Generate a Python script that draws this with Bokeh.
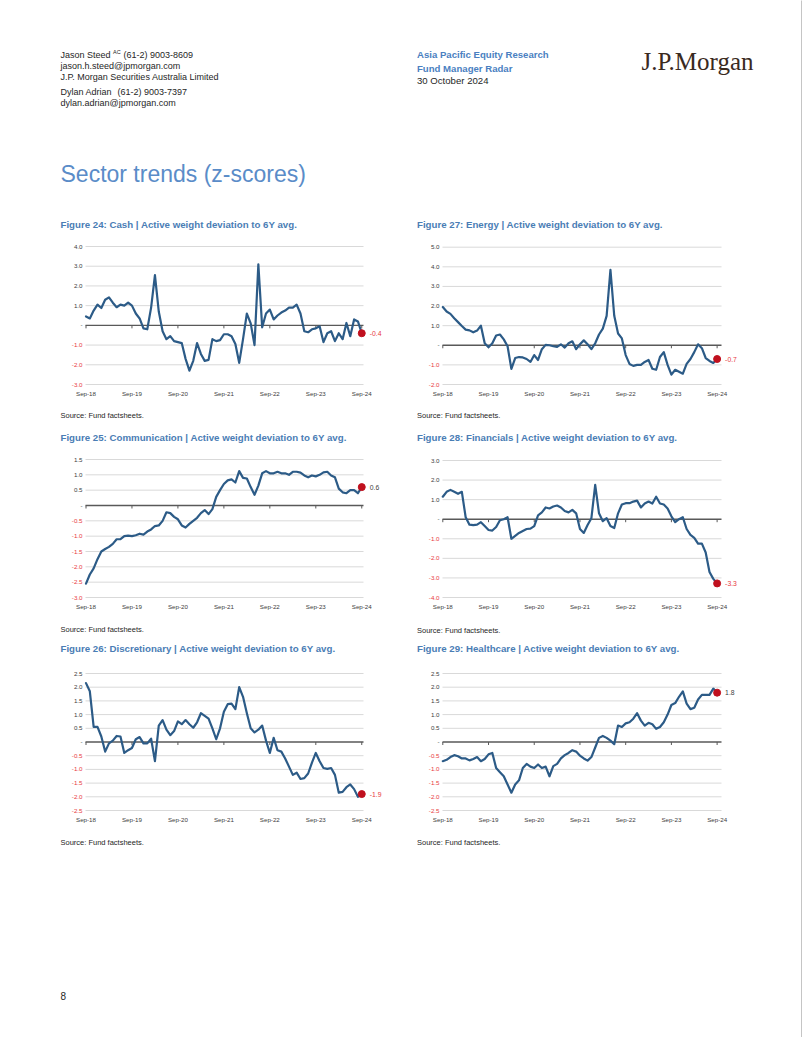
from bokeh.plotting import figure
from bokeh.models import Range1d, FixedTicker, Label, LabelSet, ColumnDataSource
from bokeh.layouts import column, row
from bokeh.core.properties import value, field
from bokeh.embed import file_html
from bokeh.resources import INLINE

# ---------------- data ----------------
months = list(range(73))  # Sep-18 .. Sep-24, monthly
tick_months = [0, 12, 24, 36, 48, 60, 72]
tick_labels = ["Sep-18", "Sep-19", "Sep-20", "Sep-21", "Sep-22", "Sep-23", "Sep-24"]

cash = [0.45, 0.35, 0.75, 1.05, 0.88, 1.3, 1.42, 1.15, 0.92, 1.05,
        1.0, 1.15, 1.0, 0.6, 0.35, -0.15, -0.2, 0.9, 2.55, 0.7,
        -0.3, -0.7, -0.55, -0.8, -0.85, -0.9, -1.7, -2.3, -1.8, -0.9,
        -1.45, -1.8, -1.75, -0.7, -0.8, -0.75, -0.45, -0.45, -0.55, -0.95,
        -1.9, -0.7, 0.6, 0.1, -1.0, 3.1, -0.1, 0.6, 0.8, 0.3,
        0.5, 0.65, 0.75, 0.9, 0.9, 1.05, 0.6, -0.3, -0.35, -0.2,
        -0.15, -0.05, -0.85, -0.4, -0.3, -0.8, -0.4, -0.7, 0.12, -0.55,
        0.3, 0.2, -0.4]
energy = [1.95, 1.72, 1.6, 1.38, 1.18, 0.98, 0.8, 0.76, 0.66, 0.75,
          1.0, 0.1, -0.1, 0.1, 0.5, 0.55, 0.3, -0.05, -1.2, -0.65,
          -0.6, -0.62, -0.7, -0.85, -0.5, -0.75, -0.2, 0.02, 0.0, -0.05,
          -0.08, 0.05, -0.12, 0.1, 0.2, -0.2, 0.05, 0.25, 0.05, -0.2,
          0.1, 0.55, 0.85, 1.5, 3.85, 1.5, 0.6, 0.35, -0.5, -0.95,
          -1.05, -1.0, -1.0, -0.85, -0.75, -1.2, -1.25, -0.6, -0.35, -1.0,
          -1.5, -1.25, -1.35, -1.45, -0.95, -0.7, -0.35, 0.05, -0.15, -0.65,
          -0.8, -0.9, -0.7]
communication = [-2.55, -2.25, -2.05, -1.75, -1.5, -1.42, -1.35, -1.25, -1.1, -1.1,
                 -1.0, -0.98, -1.0, -0.97, -0.92, -0.95, -0.85, -0.78, -0.67, -0.65,
                 -0.5, -0.22, -0.25, -0.37, -0.45, -0.65, -0.72, -0.6, -0.5, -0.4,
                 -0.25, -0.15, -0.28, -0.12, 0.28, 0.5, 0.7, 0.82, 0.85, 0.75,
                 1.12, 0.9, 0.88, 0.6, 0.35, 0.65, 1.05, 1.12, 1.05, 1.05,
                 1.1, 1.05, 1.05, 1.0, 1.1, 1.1, 1.07, 0.98, 0.92, 0.98,
                 0.95, 1.0, 1.08, 1.1, 0.98, 0.92, 0.55, 0.43, 0.4, 0.5,
                 0.5, 0.4, 0.6]
financials = [1.15, 1.4, 1.5, 1.4, 1.3, 1.4, 0.1, -0.28, -0.3, -0.28,
              -0.15, -0.35, -0.55, -0.58, -0.4, -0.05, 0.0, 0.1, -1.0, -0.85,
              -0.7, -0.6, -0.5, -0.48, -0.35, 0.2, 0.35, 0.6, 0.55, 0.65,
              0.7, 0.6, 0.42, 0.35, 0.48, 0.3, -0.5, -0.7, -0.3, 0.05,
              1.75, 0.3, -0.1, 0.05, -0.35, -0.45, 0.3, 0.75, 0.82, 0.82,
              0.9, 0.95, 0.6, 0.8, 0.9, 0.8, 1.15, 0.8, 0.75, 0.55,
              0.15, -0.15, 0.0, 0.1, -0.5, -0.8, -0.95, -1.25, -1.25, -1.7,
              -2.7, -3.05, -3.28]
discretionary = [2.15, 1.85, 0.55, 0.55, 0.2, -0.35, -0.05, 0.05, 0.22, 0.2,
                 -0.4, -0.3, -0.22, 0.1, 0.18, -0.05, -0.05, 0.12, -0.7, 0.6,
                 0.8, 0.45, 0.25, 0.4, 0.75, 0.65, 0.8, 0.65, 0.52, 0.72,
                 1.05, 0.95, 0.85, 0.5, 0.1, 0.5, 1.1, 1.38, 1.4, 1.2,
                 2.0, 1.65, 1.05, 0.5, 0.35, 0.45, 0.6, 0.05, -0.4, 0.15,
                 -0.3, -0.35, -0.6, -0.9, -1.2, -1.12, -1.35, -1.32, -1.15, -0.75,
                 -0.4, -0.7, -0.95, -0.98, -0.95, -1.2, -1.85, -1.82, -1.65, -1.55,
                 -1.72, -2.0, -1.9]
healthcare = [-0.7, -0.65, -0.55, -0.48, -0.52, -0.6, -0.6, -0.67, -0.62, -0.55,
              -0.7, -0.62, -0.45, -0.4, -0.95, -1.1, -1.25, -1.55, -1.85, -1.55,
              -1.4, -0.95, -0.8, -0.9, -0.95, -0.82, -0.95, -0.9, -1.25, -0.88,
              -0.8, -0.6, -0.48, -0.4, -0.3, -0.35, -0.5, -0.6, -0.68, -0.55,
              -0.2, 0.15, 0.22, 0.15, 0.05, -0.08, 0.6, 0.55, 0.68, 0.72,
              0.85, 1.05, 0.78, 0.6, 0.7, 0.65, 0.48, 0.55, 0.72, 1.0,
              1.35, 1.42, 1.65, 1.85, 1.4, 1.2, 1.25, 1.55, 1.72, 1.72,
              1.72, 1.95, 1.8]

ticks_cash = [-3, -2, -1, 0, 1, 2, 3, 4]
ticks_energy = [-2, -1, 0, 1, 2, 3, 4, 5]
ticks_comm = [-3.0, -2.5, -2.0, -1.5, -1.0, -0.5, 0, 0.5, 1.0, 1.5]
ticks_fin = [-4, -3, -2, -1, 0, 1, 2, 3]
ticks_half = [-2.5, -2.0, -1.5, -1.0, -0.5, 0, 0.5, 1.0, 1.5, 2.0, 2.5]

titles = {
    "cash": "Figure 24: Cash | Active weight deviation to 6Y avg.",
    "energy": "Figure 27: Energy | Active weight deviation to 6Y avg.",
    "comm": "Figure 25: Communication | Active weight deviation to 6Y avg.",
    "fin": "Figure 28: Financials | Active weight deviation to 6Y avg.",
    "disc": "Figure 26: Discretionary | Active weight deviation to 6Y avg.",
    "health": "Figure 29: Healthcare | Active weight deviation to 6Y avg.",
}
source_text = "Source: Fund factsheets."

# ---------------- style ----------------
SANS = "Liberation Sans"
SERIF = "Liberation Serif"
BLUE = "#4a7fc1"
TITLE_BLUE = "#5a8cc8"
FIG_BLUE = "#4a7db5"
DARK = "#262626"
LINE = "#2c5b87"
DOT = "#c0101e"
NEG = "#e8373e"
AXIS_TXT = "#404040"
GRID = "#d9d9d9"
ZERO = "#595959"
W = 801
CH = 168  # chart figure height

# column geometry (page pixels): figure left, width, Sep-18 x, px/month, grid x0, grid x1
LEFT = dict(x0=0, w=400, org=85.5, pxm=3.83, g0=85, g1=363)
RIGHT = dict(x0=400, w=401, org=442.3, pxm=3.81, g0=442, g1=721)


def fmt(v):
    return "-" if v == 0 else f"{v:.1f}"


def strip(h, top, texts):
    p = figure(width=W, height=h, x_range=Range1d(0, W), y_range=Range1d(h, 0),
               x_axis_type=None, y_axis_type=None, tools="", toolbar_location=None,
               output_backend="svg", min_border=0)
    p.outline_line_color = None
    for (x, y, s, font, size, color, style, base) in texts:
        p.add_layout(Label(x=x, y=y - top, text=s, text_font=font,
                           text_font_size=f"{size}px", text_color=color,
                           text_font_style=style, text_align="left",
                           text_baseline=base))
    return p


def chart(vals, yticks, col, top, gtop, gbot):
    ymin, ymax = yticks[0], yticks[-1]
    s = (gbot - gtop) / (ymax - ymin)          # px per unit
    yr0 = ymin - 5.0 / s
    yr1 = ymax + (gtop - top) / s
    mbb = top + CH - (gbot + 5)
    pxm = col["pxm"]
    xr0 = (col["x0"] - col["org"]) / pxm
    xr1 = (col["x0"] + col["w"] - col["org"]) / pxm
    gx0 = (col["g0"] - col["org"]) / pxm
    gx1 = (col["g1"] - col["org"]) / pxm

    p = figure(width=col["w"], height=CH, x_range=Range1d(xr0, xr1),
               y_range=Range1d(yr0, yr1), y_axis_type=None, tools="",
               toolbar_location=None, output_backend="svg",
               min_border_left=0, min_border_right=0, min_border_top=0,
               min_border_bottom=mbb)
    p.outline_line_color = None
    p.xgrid.visible = False

    xa = p.xaxis[0]
    xa.ticker = FixedTicker(ticks=tick_months)
    xa.major_label_overrides = {m: l for m, l in zip(tick_months, tick_labels)}
    xa.axis_line_color = None
    xa.major_tick_line_color = None
    xa.minor_tick_line_color = None
    xa.major_tick_out = 0
    xa.major_tick_in = 0
    xa.minor_tick_out = 0
    xa.minor_tick_in = 0
    xa.major_label_standoff = 0
    xa.major_label_text_font = SANS
    xa.major_label_text_font_size = "6.2px"
    xa.major_label_text_color = AXIS_TXT

    # horizontal grid lines from the tick values
    gl = [v for v in yticks if v != 0]
    p.segment(x0=[gx0] * len(gl), x1=[gx1] * len(gl), y0=gl, y1=gl,
              line_color=GRID, line_width=1)
    # zero line with year ticks
    p.segment(x0=[gx0], x1=[gx1], y0=[0], y1=[0], line_color=ZERO, line_width=1.4)
    tl = 3.0 / s
    p.segment(x0=tick_months, y0=[0] * len(tick_months), x1=tick_months,
              y1=[-tl] * len(tick_months), line_color=ZERO, line_width=1)

    # y labels (negatives in red)
    src = ColumnDataSource(dict(x=[gx0] * len(yticks), y=yticks,
                                t=[fmt(v) for v in yticks],
                                c=[NEG if v < 0 else AXIS_TXT for v in yticks]))
    p.add_layout(LabelSet(x="x", y="y", text="t", source=src, x_offset=-3,
                          text_align="right", text_baseline="middle",
                          text_color=field("c"), text_font=value(SANS),
                          text_font_size=value("6.2px")))

    p.line(months, vals, line_color=LINE, line_width=2.2, line_join="round",
           line_cap="round")
    p.scatter([months[-1]], [vals[-1]], size=7, fill_color=DOT, line_color=DOT)
    last = vals[-1]
    p.add_layout(Label(x=months[-1], y=last, x_offset=8, text=fmt(round(last, 1)),
                       text_baseline="middle", text_font=SANS,
                       text_font_size="6.8px",
                       text_color=NEG if last < 0 else AXIS_TXT))
    return p


# ---------------- header / text strips ----------------
header = strip(236, 0, [
    (60, 54, "Jason Steed", SANS, 9, DARK, "normal", "middle"),
    (112.5, 51, "AC", SANS, 5.5, DARK, "normal", "middle"),
    (123, 54, "(61-2) 9003-8609", SANS, 9, DARK, "normal", "middle"),
    (60, 65.5, "jason.h.steed@jpmorgan.com", SANS, 9, DARK, "normal", "middle"),
    (60, 76.5, "J.P. Morgan Securities Australia Limited", SANS, 9, DARK, "normal", "middle"),
    (60, 91.5, "Dylan Adrian", SANS, 9, DARK, "normal", "middle"),
    (117, 91.5, "(61-2) 9003-7397", SANS, 9, DARK, "normal", "middle"),
    (60, 102.5, "dylan.adrian@jpmorgan.com", SANS, 9, DARK, "normal", "middle"),
    (416.5, 54, "Asia Pacific Equity Research", SANS, 9.6, BLUE, "bold", "middle"),
    (416.5, 67.5, "Fund Manager Radar", SANS, 9.6, BLUE, "bold", "middle"),
    (416.5, 80, "30 October 2024", SANS, 9.6, DARK, "normal", "middle"),
    (641, 61, "J.P.Morgan", SERIF, 25, "#3a2a1e", "normal", "alphabetic"),
    (60, 173, "Sector trends (z-scores)", SANS, 23, TITLE_BLUE, "normal", "middle"),
    (60, 224, titles["cash"], SANS, 9.7, FIG_BLUE, "bold", "middle"),
    (416.5, 224, titles["energy"], SANS, 9.7, FIG_BLUE, "bold", "middle"),
])

strip1 = strip(45, 404, [
    (60, 415, source_text, SANS, 7.5, DARK, "normal", "middle"),
    (416.5, 415, source_text, SANS, 7.5, DARK, "normal", "middle"),
    (60, 437, titles["comm"], SANS, 9.7, FIG_BLUE, "bold", "middle"),
    (416.5, 437, titles["fin"], SANS, 9.7, FIG_BLUE, "bold", "middle"),
])

strip2 = strip(45, 617, [
    (60, 629, source_text, SANS, 7.5, DARK, "normal", "middle"),
    (416.5, 629.5, source_text, SANS, 7.5, DARK, "normal", "middle"),
    (60, 648, titles["disc"], SANS, 9.7, FIG_BLUE, "bold", "middle"),
    (416.5, 648, titles["health"], SANS, 9.7, FIG_BLUE, "bold", "middle"),
])

footer = strip(207, 830, [
    (60, 842, source_text, SANS, 7.5, DARK, "normal", "middle"),
    (416.5, 842, source_text, SANS, 7.5, DARK, "normal", "middle"),
    (60, 995, "8", SANS, 10, DARK, "normal", "middle"),
])

c24 = chart(cash, ticks_cash, LEFT, 236, 246, 384)
c27 = chart(energy, ticks_energy, RIGHT, 236, 246.7, 384)
c25 = chart(communication, ticks_comm, LEFT, 449, 459, 597)
c28 = chart(financials, ticks_fin, RIGHT, 449, 460, 597)
c26 = chart(discretionary, ticks_half, LEFT, 662, 673, 810)
c29 = chart(healthcare, ticks_half, RIGHT, 662, 673, 810)

# thin page edge on the right
edge = figure(width=1, height=1037, x_axis_type=None, y_axis_type=None, tools="",
              toolbar_location=None, output_backend="svg", min_border=0,
              background_fill_color="#8c8c8c", border_fill_color="#8c8c8c")
edge.outline_line_color = None

page = column(header, row(c24, c27), strip1, row(c25, c28), strip2,
              row(c26, c29), footer)
layout = row(page, edge)

open("out.html", "w").write(file_html(layout, INLINE))
